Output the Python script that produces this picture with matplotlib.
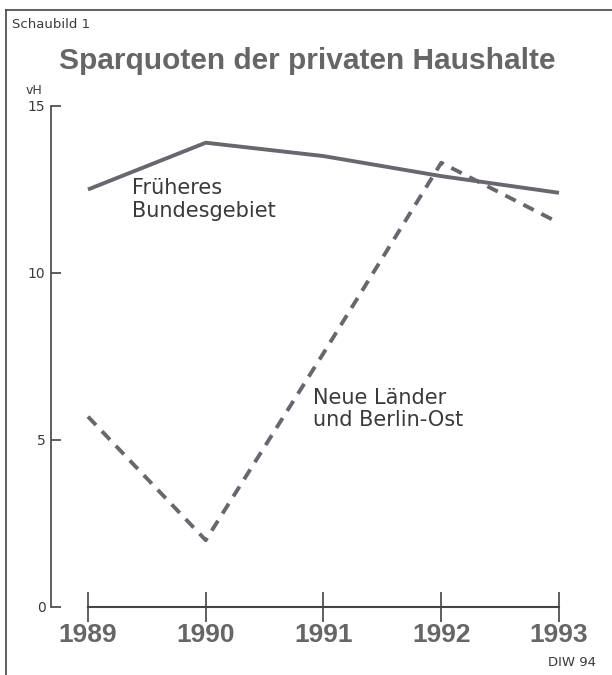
import matplotlib.pyplot as plt
from matplotlib.lines import Line2D

years = [1989, 1990, 1991, 1992, 1993]
frueheres_bundesgebiet = [12.5, 13.9, 13.5, 12.9, 12.4]
neue_laender = [5.7, 2.0, 7.6, 13.3, 11.5]
y_ticks = [0, 5, 10, 15]

line_color = '#6b6570'
text_color = '#3a3a3a'

fig = plt.figure(figsize=(6.12, 6.75), dpi=100)
fig.patch.set_facecolor('white')

# Rahmen links und oben
fig.add_artist(Line2D([6 / 612, 6 / 612], [0, 1 - 10 / 675], color='#444444', lw=1.2))
fig.add_artist(Line2D([6 / 612, 1], [1 - 10 / 675, 1 - 10 / 675], color='#444444', lw=1.2))

ax = fig.add_axes([51 / 612, 68 / 675, 549 / 612, 507.7 / 675])
ax.plot(years, frueheres_bundesgebiet, color=line_color, lw=2.8, solid_capstyle='butt')
ax.plot(years, neue_laender, color=line_color, lw=2.8, dashes=(3.0, 2.2))

ax.set_xlim(1988.686, 1993.348)
ax.set_ylim(0, 15.2)

for s in ['top', 'right']:
    ax.spines[s].set_visible(False)
ax.spines['left'].set_bounds(0, 15)
ax.spines['bottom'].set_bounds(1989, 1993)
ax.spines['left'].set_color('#444444')
ax.spines['bottom'].set_color('#444444')
ax.spines['left'].set_linewidth(1.2)
ax.spines['bottom'].set_linewidth(1.5)

ax.set_yticks(y_ticks)
ax.set_yticklabels([str(v) for v in y_ticks])
ax.tick_params(axis='y', direction='in', length=7, width=1.2, color='#444444',
               labelsize=10, labelcolor=text_color, pad=4)
ax.set_xticks(years)
ax.set_xticklabels([str(y) for y in years], fontweight='bold', fontfamily='Liberation Sans')
ax.tick_params(axis='x', direction='inout', length=21, width=1.2, color='#444444',
               labelsize=19, labelcolor='#666666', pad=1)

ax.text(1989.37, 12.84, 'Früheres\nBundesgebiet', fontsize=15, color=text_color,
        va='top', ha='left', linespacing=1.15)
ax.text(1990.91, 6.56, 'Neue Länder\nund Berlin-Ost', fontsize=15, color=text_color,
        va='top', ha='left', linespacing=1.15)

fig.text(12 / 612, 1 - 25 / 675, 'Schaubild 1', fontsize=9.5, color=text_color, va='center')
fig.text(307 / 612, 1 - 61 / 675, 'Sparquoten der privaten Haushalte', fontsize=21.5,
         fontweight='bold', fontfamily='Liberation Sans', color='#666666', ha='center', va='center')
fig.text(26 / 612, 1 - 90 / 675, 'vH', fontsize=9, color=text_color, va='center')
fig.text(596 / 612, 1 - 662 / 675, 'DIW 94', fontsize=9.5, color=text_color, va='center', ha='right')

fig.savefig('out.png', dpi=100)
